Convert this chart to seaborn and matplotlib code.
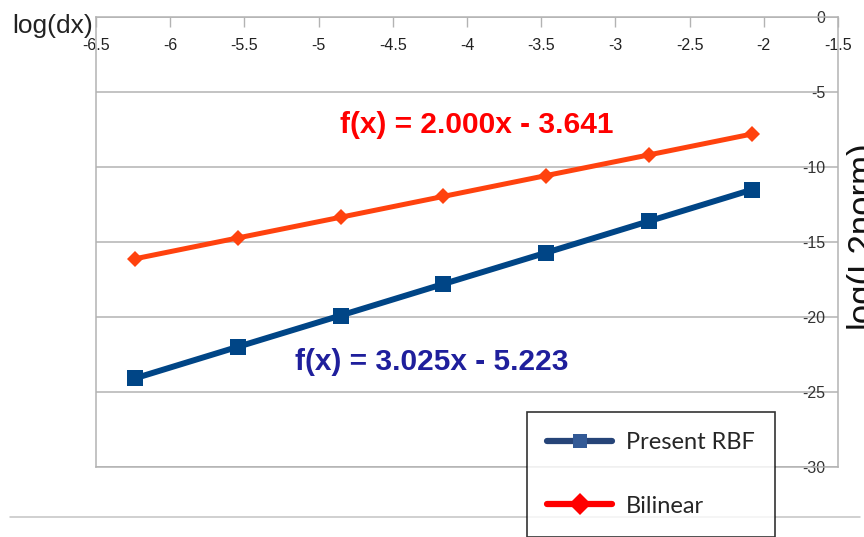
import matplotlib
matplotlib.use("Agg")
import matplotlib.pyplot as plt
from matplotlib.lines import Line2D
import seaborn as sns

# data (natural log of dx, natural log of L2 norm)
log_dx = [-6.238, -5.545, -4.852, -4.159, -3.466, -2.773, -2.079]
rbf_err = [-24.09, -21.99, -19.90, -17.80, -15.71, -13.61, -11.51]
bilinear_err = [-16.12, -14.73, -13.35, -11.96, -10.57, -9.19, -7.80]

x_ticks = [-6.5, -6, -5.5, -5, -4.5, -4, -3.5, -3, -2.5, -2, -1.5]
x_tick_labels = ["-6.5", "-6", "-5.5", "-5", "-4.5", "-4", "-3.5", "-3", "-2.5", "-2", "-1.5"]
y_ticks = [0, -5, -10, -15, -20, -25, -30]
y_tick_labels = ["0", "-5", "-10", "-15", "-20", "-25", "-30"]

fit_rbf = "f(x) = 3.025x - 5.223"
fit_bilinear = "f(x) = 2.000x - 3.641"
series_names = ["Present RBF", "Bilinear"]

sns.set_theme(style="white")
plt.rcParams["font.family"] = ["Liberation Sans", "DejaVu Sans"]

W, H = 864, 537
fig = plt.figure(figsize=(W / 100, H / 100), dpi=100)
ax = fig.add_axes([96 / W, 1 - 467 / H, (838 - 96) / W, 450 / H])

grid_col = "#b3b3b3"

sns.lineplot(x=log_dx, y=rbf_err, ax=ax, color="#004586", lw=4.3,
             marker="s", markersize=12, markeredgewidth=0, legend=False, zorder=3)
sns.lineplot(x=log_dx, y=bilinear_err, ax=ax, color="#ff420e", lw=3.6,
             marker="D", markersize=8.5, markeredgewidth=0, legend=False, zorder=3)

ax.set_xlim(-6.5, -1.5)
ax.set_ylim(-30, 0)

# x axis sits on top, labels inside the frame
ax.xaxis.tick_top()
ax.set_xticks(x_ticks)
ax.set_xticklabels(x_tick_labels)
ax.tick_params(axis="x", direction="in", length=7, width=1, color=grid_col,
               labelsize=11.5, labelcolor="#222222", pad=-15)
for lab in ax.get_xticklabels():
    lab.set_verticalalignment("top")

# y axis on the right, labels inside too
ax.yaxis.tick_right()
ax.set_yticks(y_ticks)
ax.set_yticklabels(y_tick_labels)
ax.tick_params(axis="y", direction="in", length=0, labelsize=11.5,
               labelcolor="#333333", pad=-9)
for lab in ax.get_yticklabels():
    lab.set_horizontalalignment("right")

ax.grid(axis="y", color=grid_col, lw=1.1)
ax.grid(axis="x", visible=False)
for sp in ax.spines.values():
    sp.set_color(grid_col)
    sp.set_linewidth(1.1)

ax.xaxis.set_label_position("top")
ax.set_xlabel("log(dx)", fontsize=19, color="#222222")
ax.xaxis.set_label_coords(-0.058, 0.98)
ax.xaxis.label.set_verticalalignment("center")

# the right-hand label runs off the page edge, as in the original
ax.yaxis.set_label_position("right")
ax.set_ylabel("log(L2norm)", fontsize=25, color="#111111", rotation=90)
ax.yaxis.set_label_coords(1.031, 0.518)
ax.yaxis.label.set_verticalalignment("center")

ax.text(-3.933, -7.2, fit_bilinear, color="#ff0000", fontsize=21.5,
        fontweight="bold", ha="center", va="center")
ax.text(-4.236, -23.0, fit_rbf, color="#1f1f9c", fontsize=21.5,
        fontweight="bold", ha="center", va="center")

# separator rule across the page
fig.add_artist(Line2D([10 / W, 860 / W], [1 - 517 / H] * 2, transform=fig.transFigure,
                      color="#c4c4c4", lw=1.1, zorder=0))

handles = [
    Line2D([], [], color="#264478", lw=4.5, marker="s", markersize=9.5,
           markerfacecolor="#335a96", markeredgewidth=0),
    Line2D([], [], color="#ff0000", lw=4.5, marker="D", markersize=11,
           markeredgewidth=0),
]
leg = fig.legend(handles, series_names, loc="upper left",
                 bbox_to_anchor=(527 / W, 1 - 412 / H, (775 - 527) / W, 0),
                 mode="expand", frameon=True, fancybox=False,
                 prop={"family": "Lato", "size": 17},
                 handlelength=2.75, handletextpad=0.6, borderpad=0.85,
                 labelspacing=1.8, borderaxespad=0)
leg.get_frame().set_edgecolor("black")
leg.get_frame().set_linewidth(1.2)
leg.set_zorder(5)

fig.savefig("out.png", dpi=100)
